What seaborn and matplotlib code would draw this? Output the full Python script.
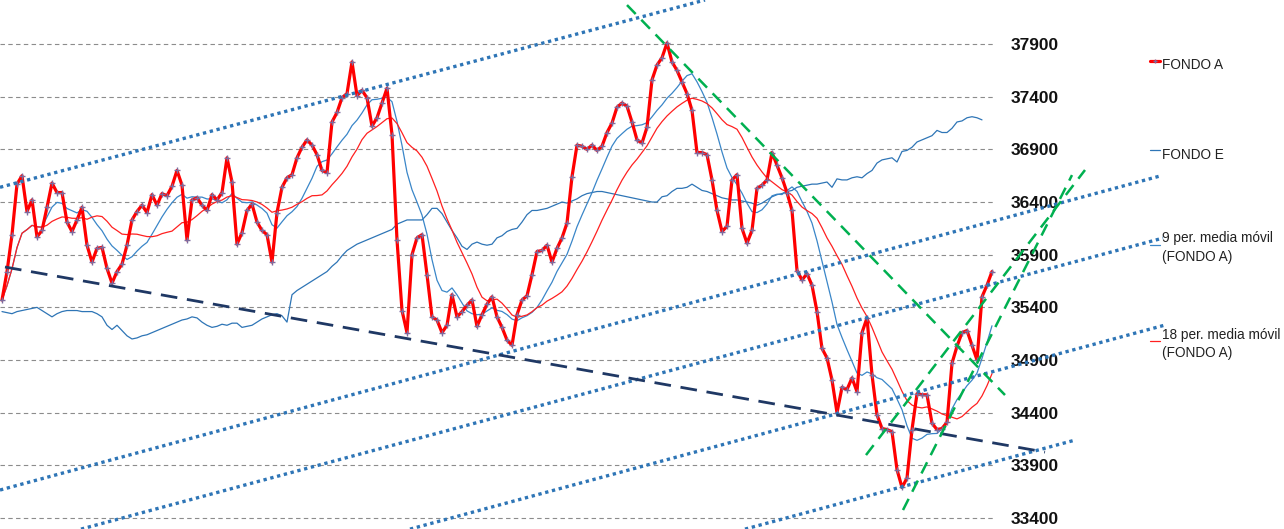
import numpy as np
import pandas as pd
import matplotlib
matplotlib.use("Agg")
import matplotlib.pyplot as plt
import seaborn as sns

# ------------------------------
# Data (one value every session)
# ------------------------------
fondo_a = [35470, 35740, 36090, 36570, 36650, 36310, 36420, 36070, 36130, 36350,
           36580, 36490, 36490, 36210, 36120, 36230, 36350, 35990, 35830, 35960,
           35970, 35770, 35630, 35740, 35810, 35990, 36230, 36310, 36370, 36300,
           36470, 36370, 36480, 36460, 36550, 36700, 36560, 36040, 36420, 36440,
           36370, 36320, 36470, 36420, 36490, 36820, 36590, 36000, 36110, 36320,
           36380, 36210, 36130, 36090, 35830, 36300, 36540, 36630, 36660, 36820,
           36920, 36990, 36940, 36850, 36700, 36680, 37160, 37250, 37390, 37430,
           37730, 37410, 37460, 37390, 37120, 37200, 37340, 37480, 37040, 36040,
           35370, 35160, 35900, 36060, 36090, 35710, 35310, 35280, 35160, 35230,
           35520, 35310, 35360, 35420, 35470, 35220, 35330, 35430, 35500, 35310,
           35210, 35090, 35040, 35330, 35470, 35510, 35710, 35930, 35940, 35990,
           35830, 35960, 36060, 36200, 36640, 36940, 36930, 36900, 36940, 36890,
           36930, 37060, 37150, 37300, 37340, 37310, 37160, 36990, 36960, 37110,
           37560, 37700, 37770, 37910, 37730, 37650, 37540, 37430, 37270, 36870,
           36870, 36850, 36610, 36320, 36120, 36170, 36610, 36660, 36150, 36010,
           36130, 36530, 36560, 36610, 36870, 36750, 36630, 36490, 36320, 35750,
           35660, 35720, 35610, 35360, 35010, 34920, 34710, 34400, 34640, 34620,
           34730, 34600, 35160, 35300, 34760, 34380, 34250, 34240, 34220, 33860,
           33690, 33780, 34240, 34580, 34570, 34570, 34300, 34240, 34250, 34310,
           34870, 35030, 35160, 35180, 35040, 34900, 35500, 35610, 35740]

fondo_e = [35360, 35350, 35340, 35360, 35370, 35380, 35390, 35400, 35370, 35340,
           35310, 35340, 35360, 35370, 35370, 35370, 35360, 35360, 35360, 35340,
           35310, 35230, 35190, 35230, 35180, 35130, 35100, 35110, 35130, 35140,
           35160, 35180, 35200, 35220, 35240, 35260, 35280, 35290, 35310, 35300,
           35260, 35230, 35210, 35220, 35240, 35230, 35250, 35250, 35210, 35220,
           35230, 35260, 35290, 35310, 35330, 35340, 35320, 35260, 35520, 35560,
           35590, 35620, 35650, 35680, 35710, 35740, 35790, 35830, 35890, 35940,
           35970, 36000, 36020, 36040, 36060, 36080, 36100, 36120, 36140, 36190,
           36210, 36230, 36230, 36230, 36230, 36280, 36340, 36340, 36290, 36210,
           36130, 36060, 35980, 35950, 36000, 36020, 36000, 35990, 36000, 36060,
           36080, 36120, 36140, 36150, 36210, 36280, 36320, 36320, 36330, 36340,
           36360, 36380, 36400, 36390, 36410, 36430, 36460, 36480, 36490, 36500,
           36500, 36490, 36480, 36470, 36460, 36450, 36440, 36430, 36420, 36410,
           36400, 36400, 36450, 36460, 36500, 36530, 36530, 36540, 36570, 36540,
           36510, 36500, 36480, 36460, 36440, 36430, 36420, 36420, 36410, 36400,
           36390, 36370, 36390, 36420, 36450, 36470, 36480, 36500, 36510, 36540,
           36550, 36560, 36570, 36570, 36580, 36590, 36540, 36620, 36610, 36610,
           36630, 36640, 36630, 36670, 36700, 36770, 36800, 36810, 36820, 36780,
           36880, 36890, 36920, 36970, 36990, 37010, 37030, 37080, 37060, 37060,
           37100, 37160, 37170, 37200, 37210, 37200, 37180]

y_ticks = [33400, 33900, 34400, 34900, 35400, 35900, 36400, 36900, 37400, 37900]
series_labels = ["FONDO A", "FONDO E", "9 per. media móvil\n(FONDO A)",
                 "18 per. media móvil\n(FONDO A)"]

# hand drawn trend lines: (start session, start value, end session, end value)
channel_lines = [(-0.4, 36540, 140.6, 38318),
                 (-0.4, 33666, 231.6, 36647),
                 (15.8, 33295, 232.2, 36058),
                 (81.6, 33295, 232.6, 35232),
                 (148.6, 33295, 214.6, 34140)]
support_line = (0.6, 35783, 208.6, 34026)
green_lines = [(125.0, 38270, 200.6, 34568),
               (172.8, 33998, 216.6, 36704),
               (180.2, 33476, 214.0, 36656)]

# ------------------------------
# Build dataframe + moving averages
# ------------------------------
df = pd.DataFrame({"FONDO A": pd.Series(fondo_a, dtype=float),
                   "FONDO E": pd.Series(fondo_e, dtype=float)})
df["sesion"] = np.arange(len(df))
df["mm9"] = df["FONDO A"].rolling(9, min_periods=1).mean()
df["mm18"] = df["FONDO A"].rolling(18, min_periods=1).mean()

sns.set_theme(style="white")
plt.rcParams["font.family"] = ["Liberation Sans", "DejaVu Sans"]

fig = plt.figure(figsize=(12.84, 5.29), dpi=100)
ax = fig.add_axes([0, 0, 995 / 1284, 1])

blue = "#2E75B6"
sns.lineplot(data=df, x="sesion", y="FONDO E", ax=ax, color=blue, lw=0.9,
             label=series_labels[1], zorder=2)
sns.lineplot(data=df, x="sesion", y="mm9", ax=ax, color="#3A86C8", lw=0.9,
             label=series_labels[2], zorder=2)
sns.lineplot(data=df, x="sesion", y="mm18", ax=ax, color="#FF2020", lw=0.9,
             label=series_labels[3], zorder=2)
sns.lineplot(data=df, x="sesion", y="FONDO A", ax=ax, color="#FF0000", lw=2.3,
             marker="+", markersize=4, markeredgecolor="#7D6B9E",
             markeredgewidth=1, label=series_labels[0], zorder=3)

# trend lines (drawn past the plot area like excel shapes)
for x0, y0, x1, y1 in channel_lines:
    ax.plot([x0, x1], [y0, y1], color=blue, lw=2.4, ls=(0, (1, 1.1)),
            dash_capstyle="butt", clip_on=False, zorder=4)
x0, y0, x1, y1 = support_line
ax.plot([x0, x1], [y0, y1], color="#1F3864", lw=2.0, ls=(0, (6, 3.5)),
        clip_on=False, zorder=4)
for x0, y0, x1, y1 in green_lines:
    ax.plot([x0, x1], [y0, y1], color="#00B050", lw=1.8, ls=(0, (5, 3.2)),
            clip_on=False, zorder=4)

# axes
ax.set_xlim(-0.4, 198.6)
ax.set_ylim(33296, 38318)
ax.set_xticks([])
ax.set_xlabel("")
ax.set_ylabel("")
ax.yaxis.tick_right()
ax.set_yticks(y_ticks)
ax.set_yticklabels([str(t) for t in y_ticks], fontsize=12.5, fontweight="bold",
                   color="#111111")
ax.tick_params(axis="y", length=0, pad=11)
ax.grid(axis="y", color="#8C8C8C", lw=0.8, ls=(0, (4, 3)))
for s in ax.spines.values():
    s.set_visible(False)

# legend on the right, excel style (equal height entries)
handles, labels = ax.get_legend_handles_labels()
if ax.get_legend() is not None:
    ax.get_legend().remove()
order = [labels.index(l) for l in series_labels]
leg = fig.legend([handles[i] for i in order], [labels[i] for i in order],
                 loc="upper left", bbox_to_anchor=(1150 / 1284, 1 - 52 / 529),
                 frameon=False, handlelength=0.7, handleheight=2.6,
                 handletextpad=0.2, labelspacing=4.65, borderpad=0,
                 borderaxespad=0, fontsize=9.8, markerscale=0.6)
for t in leg.get_texts():
    t.set_linespacing(1.45)
    t.set_color("#222222")

plt.savefig("out.png", dpi=100)
